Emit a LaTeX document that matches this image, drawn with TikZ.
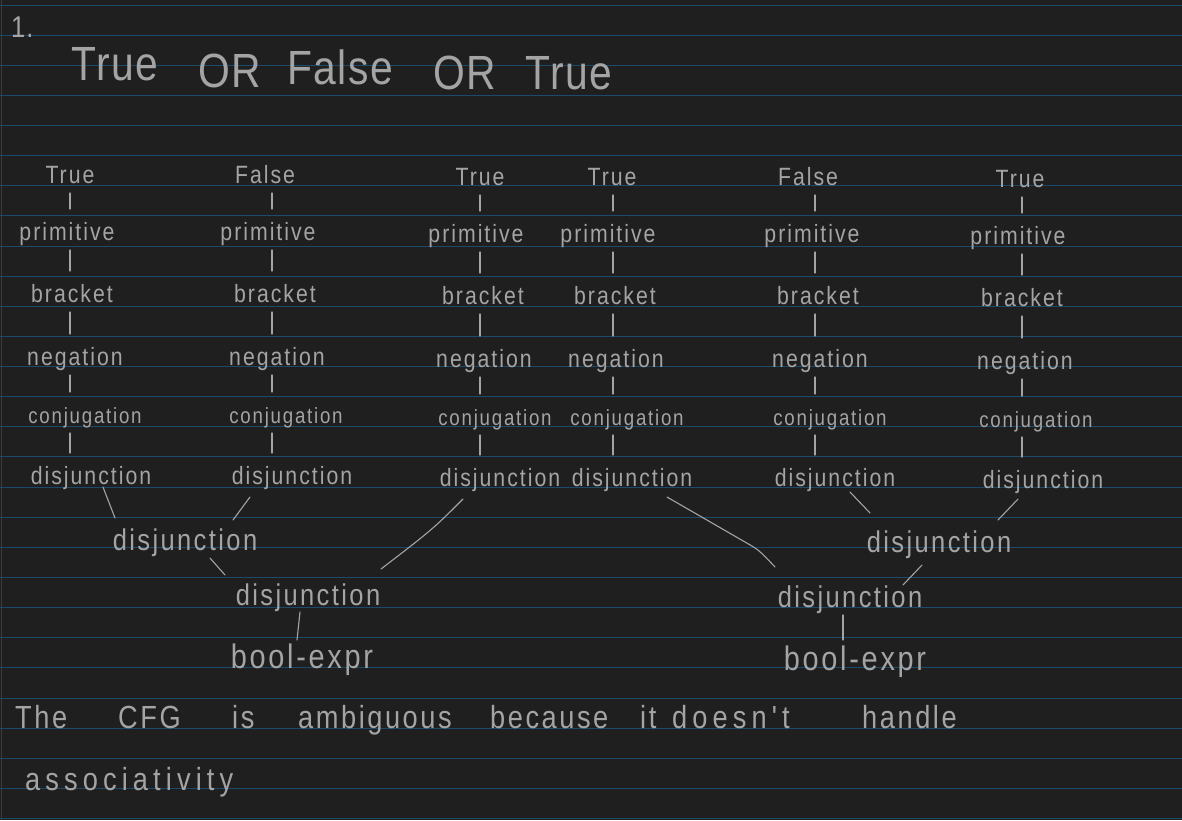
\documentclass[tikz,border=0pt]{standalone}
\usepackage{fontspec}
\usetikzlibrary{calc}
\newfontfamily\hand[FakeStretch=0.85,LetterSpace=8]{Liberation Sans}
\newfontfamily\handw[FakeStretch=0.85,LetterSpace=16]{Liberation Sans}
\newfontfamily\handh[FakeStretch=0.85,LetterSpace=3]{Liberation Sans}
\definecolor{paper}{HTML}{1F1F1F}
\definecolor{rulec}{HTML}{1B4A6B}
\definecolor{marginc}{HTML}{8A1A1A}
\definecolor{ink}{HTML}{A4A4A4}
\begin{document}
\begin{tikzpicture}[x=1pt,y=-1pt,
  lbl/.style={font={\hand\fontsize{25}{28}\selectfont}, text=ink, inner sep=0pt, anchor=base},
  lblc/.style={lbl, font={\hand\fontsize{22}{26}\selectfont}},
  lblb/.style={lbl, font={\hand\fontsize{30}{34}\selectfont}},
  lble/.style={lbl, font={\hand\fontsize{34}{38}\selectfont}},
  hd/.style={font={\handh\fontsize{48}{52}\selectfont}, text=ink, inner sep=0pt, anchor=base},
  bt/.style={font={\hand\fontsize{32}{36}\selectfont}, text=ink, inner sep=0pt, anchor=base west},
  btw/.style={bt, font={\handw\fontsize{32}{36}\selectfont}},
  conn/.style={draw=ink, line width=1.1pt, line cap=round},
  rl/.style={draw=rulec, line width=1pt}]
\useasboundingbox (0,0) rectangle (1182,820);
\fill[paper] (0,0) rectangle (1182,820);
\foreach \k in {0,...,27} \draw[rl] (0,{5+30.13*\k}) -- (1182,{5+30.13*\k});
\draw[draw=marginc, line width=1pt] (1.5,0) -- (1.5,820);

% heading
\node[hd, anchor=base west, font={\handh\fontsize{30}{32}\selectfont}] (num) at (11,37) {1.};
\node[hd] (h1) at (115,80) {True};
\node[hd] (h2) at (230,87) {OR};
\node[hd] (h3) at (340,84) {False};
\node[hd] (h4) at (465,89) {OR};
\node[hd] (h5) at (569,89) {True};

% column 1
\node[lbl]  (n11) at (70,183) {True};
\node[lbl]  (n12) at (67,240) {primitive};
\node[lbl]  (n13) at (72,302) {bracket};
\node[lbl]  (n14) at (75,365) {negation};
\node[lblc] (n15) at (85,423) {conjugation};
\node[lbl]  (n16) at (91,484) {disjunction};
% column 2
\node[lbl]  (n21) at (265,183) {False};
\node[lbl]  (n22) at (268,240) {primitive};
\node[lbl]  (n23) at (275,302) {bracket};
\node[lbl]  (n24) at (277,365) {negation};
\node[lblc] (n25) at (286,423) {conjugation};
\node[lbl]  (n26) at (292,484) {disjunction};
% column 3
\node[lbl]  (n31) at (480,185) {True};
\node[lbl]  (n32) at (476,242) {primitive};
\node[lbl]  (n33) at (483,304) {bracket};
\node[lbl]  (n34) at (484,367) {negation};
\node[lblc] (n35) at (495,425) {conjugation};
\node[lbl]  (n36) at (500,486) {disjunction};
% column 4
\node[lbl]  (n41) at (612,185) {True};
\node[lbl]  (n42) at (608,242) {primitive};
\node[lbl]  (n43) at (615,304) {bracket};
\node[lbl]  (n44) at (616,367) {negation};
\node[lblc] (n45) at (627,425) {conjugation};
\node[lbl]  (n46) at (632,486) {disjunction};
% column 5
\node[lbl]  (n51) at (808,185) {False};
\node[lbl]  (n52) at (812,242) {primitive};
\node[lbl]  (n53) at (818,304) {bracket};
\node[lbl]  (n54) at (820,367) {negation};
\node[lblc] (n55) at (830,425) {conjugation};
\node[lbl]  (n56) at (835,486) {disjunction};
% column 6
\node[lbl]  (n61) at (1020,187) {True};
\node[lbl]  (n62) at (1018,244) {primitive};
\node[lbl]  (n63) at (1022,306) {bracket};
\node[lbl]  (n64) at (1025,369) {negation};
\node[lblc] (n65) at (1036,427) {conjugation};
\node[lbl]  (n66) at (1043,488) {disjunction};

% line x per column
\coordinate (X1) at (70,0);
\coordinate (X2) at (272,0);
\coordinate (X3) at (480,0);
\coordinate (X4) at (613,0);
\coordinate (X5) at (815,0);
\coordinate (X6) at (1022,0);
\foreach \c in {1,...,6}
  \foreach \r/\s in {1/2,2/3,3/4,4/5,5/6}
    \draw[conn] ($(X\c |- n\c\r.base)+(0,10)$) -- ($(X\c |- n\c\s.base)+(0,-31)$);

% upper levels
\node[lblb] (L2) at (185,550) {disjunction};
\node[lblb] (L3) at (308,605) {disjunction};
\node[lble] (B1) at (302,668) {bool-expr};
\node[lblb] (R2) at (939,552) {disjunction};
\node[lblb] (R3) at (850,607) {disjunction};
\node[lble] (B2) at (855,670) {bool-expr};

\draw[conn] ([shift={(12,3)}]n16.base) -- ([shift={(-70,-32)}]L2.base);
\draw[conn] ([shift={(-42,13)}]n26.base) -- ([shift={(48,-30)}]L2.base);
\draw[conn] ([shift={(25,8)}]L2.base) -- ([shift={(-83,-30)}]L3.base);
\draw[conn] ([shift={(-37,13)}]n36.base) .. controls +(-30,30) .. ([shift={(73,-36)}]L3.base);
\draw[conn] ([shift={(35,11)}]n46.base) -- ++(78,45) .. controls +(14,8) .. ([shift={(-75,-40)}]R3.base);
\draw[conn] ([shift={(15,6)}]n56.base) -- ([shift={(-69,-39)}]R2.base);
\draw[conn] ([shift={(-25,11)}]n66.base) -- ([shift={(59,-32)}]R2.base);
\draw[conn] ([shift={(-17,13)}]R2.base) -- ([shift={(53,-22)}]R3.base);
\draw[conn] ([shift={(-8,7)}]L3.base) -- ([shift={(-5,-28)}]B1.base);
\draw[conn] ([shift={(-7,8)}]R3.base) -- ([shift={(-12,-30)}]B2.base);

% bottom sentence
\node[bt] (w1) at (15,728) {The};
\node[bt] (w2) at (118,728) {CFG};
\node[bt] (w3) at (232,728) {is};
\node[bt] (w4) at (298,728) {ambiguous};
\node[bt] (w5) at (490,728) {because};
\node[bt] (w6) at (640,728) {it};
\node[btw] (w7) at (672,728) {doesn't};
\node[bt] (w8) at (862,728) {handle};
\node[btw] (w9) at (25,790) {associativity};
\end{tikzpicture}
\end{document}
